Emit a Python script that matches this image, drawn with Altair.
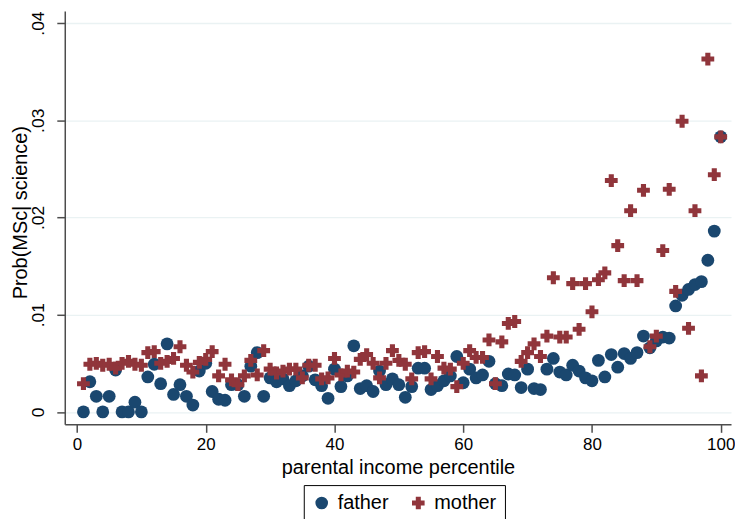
import altair as alt
import pandas as pd

percentiles = list(range(1, 101))

father = [0, .0031, .0016, 0, .0016, .0043, 0, 0, .0010, 0,
          .0036, .0049, .0029, .0070, .0018, .0028, .0016, .0007, .0042, .0050,
          .0021, .0013, .0012, .0028, .0028, .0016, .0047, .0061, .0016, .0035,
          .0031, .0034, .0027, .0032, .0037, .0047, .0033, .0027, .0014, .0044,
          .0026, .0037, .0068, .0024, .0027, .0021, .0042, .0028, .0034, .0028,
          .0015, .0026, .0045, .0045, .0023, .0027, .0032, .0037, .0057, .0030,
          .0044, .0035, .0038, .0052, .0029, .0027, .0039, .0038, .0025, .0044,
          .0024, .0023, .0044, .0055, .0041, .0038, .0048, .0042, .0035, .0032,
          .0053, .0036, .0059, .0046, .0060, .0055, .0061, .0078, .0066, .0073,
          .0077, .0076, .0109, .0120, .0126, .0131, .0134, .0156, .0186, .0283]

mother = [.0029, .0049, .0050, .0048, .0049, .0045, .0050, .0052, .0049, .0048,
          .0061, .0062, .0050, .0052, .0055, .0067, .0048, .0041, .0051, .0054,
          .0062, .0037, .0049, .0033, .0028, .0037, .0053, .0038, .0063, .0044,
          .0040, .0042, .0044, .0044, .0035, .0048, .0048, .0034, .0035, .0055,
          .0038, .0042, .0041, .0054, .0059, .0050, .0035, .0050, .0063, .0053,
          .0049, .0034, .0061, .0062, .0034, .0057, .0045, .0044, .0026, .0050,
          .0063, .0056, .0056, .0074, .0029, .0072, .0091, .0093, .0052, .0061,
          .0070, .0057, .0078, .0138, .0077, .0077, .0132, .0085, .0132, .0103,
          .0136, .0143, .0238, .0171, .0135, .0207, .0135, .0228, .0067, .0078,
          .0166, .0229, .0124, .0299, .0086, .0207, .0037, .0363, .0244, .0283]

series = ["father", "mother"]
colors = ["#1a476f", "#90353b"]
shapes = ["circle", "cross"]
x_ticks = [0, 20, 40, 60, 80, 100]
y_ticks = [0, 0.01, 0.02, 0.03, 0.04]

df = pd.concat([
    pd.DataFrame({"pct": percentiles, "prob": father, "series": "father"}),
    pd.DataFrame({"pct": percentiles, "prob": mother, "series": "mother"}),
], ignore_index=True)

FONT = "Liberation Sans"
AX = "#4d4d4d"

legend = alt.Legend(
    title=None, orient="none", legendX=240, legendY=476, direction="horizontal",
    padding=8, strokeColor="black", fillColor="white", labelFontSize=20,
    labelFont=FONT, labelColor="black", symbolSize=160, labelOffset=6,
    columnPadding=19, symbolStrokeWidth=0,
)

chart = alt.Chart(df).mark_point(filled=True, opacity=1, size=165).encode(
    x=alt.X("pct:Q",
            scale=alt.Scale(domain=[-1.9, 101.6], nice=False, zero=False),
            axis=alt.Axis(values=x_ticks, title="parental income percentile", grid=False,
                          labelFontSize=17, titleFontSize=20, tickSize=8, labelPadding=4,
                          titlePadding=5, domainColor=AX, tickColor=AX, domainWidth=1.5,
                          tickWidth=1.5, labelColor="black", titleColor="black",
                          labelFont=FONT, titleFont=FONT, titleFontWeight="normal")),
    y=alt.Y("prob:Q",
            scale=alt.Scale(domain=[-0.00128, 0.04124], nice=False, zero=False),
            axis=alt.Axis(values=y_ticks, title="Prob(MSc| science)", grid=True,
                          gridColor="#eaf2f3", gridWidth=1.3,
                          labelExpr="datum.value == 0 ? '0' : substring(format(datum.value, '.2f'), 1)",
                          labelAngle=270, labelAlign="center", labelBaseline="bottom",
                          labelFontSize=17.5, titleFontSize=20, tickSize=8, labelPadding=9,
                          titleX=-44, titleY=202, titleAngle=270, titleAlign="center",
                          titleBaseline="middle",
                          domainColor=AX, tickColor=AX, domainWidth=1.5,
                          tickWidth=1.5, labelColor="black", titleColor="black",
                          labelFont=FONT, titleFont=FONT, titleFontWeight="normal")),
    color=alt.Color("series:N", scale=alt.Scale(domain=series, range=colors), legend=legend),
    shape=alt.Shape("series:N", scale=alt.Scale(domain=series, range=shapes), legend=legend),
).properties(
    width=669, height=415,
    autosize=alt.AutoSizeParams(type="none"),
    padding={"left": 57, "top": 2, "right": 4, "bottom": 94},
    background="white",
).configure_view(stroke=None)

chart.save("out.html", embed_options={"renderer": "svg", "actions": False})
